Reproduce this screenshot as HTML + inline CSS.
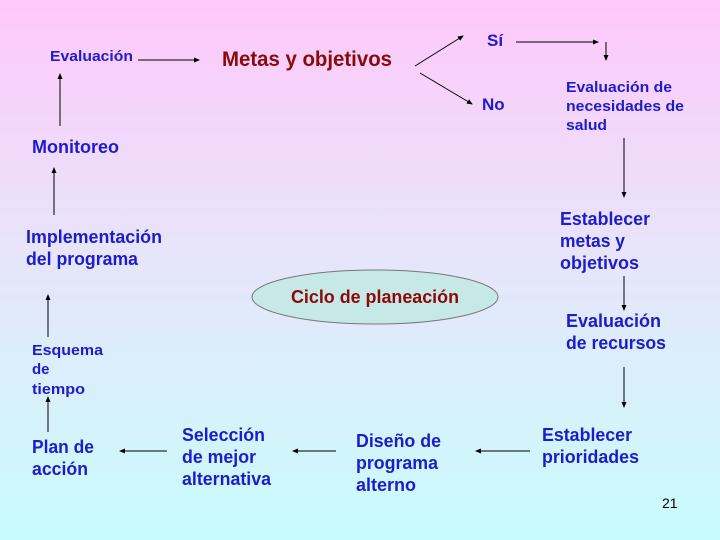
<!DOCTYPE html>
<html><head><meta charset="utf-8"><style>
html,body{margin:0;padding:0}
body{width:720px;height:540px;background:linear-gradient(#ffc8fa,#e8e4fa 45%,#c8fcfc);overflow:hidden}
svg{display:block}
text{font-family:"Liberation Sans",Arial,sans-serif;font-weight:bold;fill:#1c1ccc}
</style></head><body>
<svg width="720" height="540" viewBox="0 0 720 540">
<defs><marker id="a" markerWidth="6" markerHeight="6" refX="5" refY="3" orient="auto" markerUnits="userSpaceOnUse"><path d="M0,0.5 L6,3 L0,5.5z" fill="#000"/></marker></defs>
<g stroke="#000" stroke-width="1" fill="none" marker-end="url(#a)">
<line x1="138" y1="60" x2="199" y2="60"/>
<line x1="415" y1="66" x2="463" y2="36"/>
<line x1="420" y1="73" x2="472" y2="104"/>
<line x1="516" y1="42" x2="598" y2="42"/>
<line x1="606" y1="42" x2="606" y2="60"/>
<line x1="624" y1="138" x2="624" y2="197"/>
<line x1="624" y1="276" x2="624" y2="310"/>
<line x1="624" y1="367" x2="624" y2="407"/>
<line x1="530" y1="451" x2="476" y2="451"/>
<line x1="336" y1="451" x2="293" y2="451"/>
<line x1="167" y1="451" x2="120" y2="451"/>
<line x1="48" y1="432" x2="48" y2="397"/>
<line x1="48" y1="337" x2="48" y2="295"/>
<line x1="54" y1="215" x2="54" y2="168"/>
<line x1="60" y1="126" x2="60" y2="74"/>
</g>
<ellipse cx="375" cy="297" rx="123" ry="27" fill="#c6e8e6" stroke="#777" stroke-width="1"/>
<g lengthAdjust="spacingAndGlyphs">
<text x="50" y="61" font-size="15" textLength="83" lengthAdjust="spacingAndGlyphs">Evaluación</text>
<text x="222" y="66" font-size="21" textLength="170" lengthAdjust="spacingAndGlyphs" style="fill:#8a0a0a">Metas y objetivos</text>
<text x="487" y="46" font-size="17">Sí</text>
<text x="482" y="110" font-size="17">No</text>
<g font-size="15">
<text x="566" y="92" textLength="106" lengthAdjust="spacingAndGlyphs">Evaluación de</text>
<text x="566" y="111" textLength="118" lengthAdjust="spacingAndGlyphs">necesidades de</text>
<text x="566" y="130" textLength="41" lengthAdjust="spacingAndGlyphs">salud</text>
<text x="32" y="355" textLength="71" lengthAdjust="spacingAndGlyphs">Esquema</text>
<text x="32" y="374">de</text>
<text x="32" y="394" textLength="53" lengthAdjust="spacingAndGlyphs">tiempo</text>
</g>
<g font-size="18">
<text x="560" y="225" textLength="90" lengthAdjust="spacingAndGlyphs">Establecer</text>
<text x="560" y="247" textLength="65" lengthAdjust="spacingAndGlyphs">metas y</text>
<text x="560" y="269" textLength="79" lengthAdjust="spacingAndGlyphs">objetivos</text>
<text x="566" y="327" textLength="95" lengthAdjust="spacingAndGlyphs">Evaluación</text>
<text x="566" y="349" textLength="100" lengthAdjust="spacingAndGlyphs">de recursos</text>
<text x="542" y="441" textLength="90" lengthAdjust="spacingAndGlyphs">Establecer</text>
<text x="542" y="463" textLength="97" lengthAdjust="spacingAndGlyphs">prioridades</text>
<text x="356" y="447" textLength="85" lengthAdjust="spacingAndGlyphs">Diseño de</text>
<text x="356" y="469" textLength="82" lengthAdjust="spacingAndGlyphs">programa</text>
<text x="356" y="491" textLength="60" lengthAdjust="spacingAndGlyphs">alterno</text>
<text x="182" y="441" textLength="83" lengthAdjust="spacingAndGlyphs">Selección</text>
<text x="182" y="463" textLength="74" lengthAdjust="spacingAndGlyphs">de mejor</text>
<text x="182" y="485" textLength="89" lengthAdjust="spacingAndGlyphs">alternativa</text>
<text x="32" y="453" textLength="62" lengthAdjust="spacingAndGlyphs">Plan de</text>
<text x="32" y="475" textLength="56" lengthAdjust="spacingAndGlyphs">acción</text>
<text x="26" y="243" textLength="136" lengthAdjust="spacingAndGlyphs">Implementación</text>
<text x="26" y="265" textLength="112" lengthAdjust="spacingAndGlyphs">del programa</text>
<text x="32" y="153" textLength="87" lengthAdjust="spacingAndGlyphs">Monitoreo</text>
<text x="291" y="303" textLength="168" lengthAdjust="spacingAndGlyphs" style="fill:#8a0a0a">Ciclo de planeación</text>
</g>
</g>
<text x="662" y="508" font-size="14" style="fill:#000;font-weight:normal">21</text>
</svg>
</body></html>
